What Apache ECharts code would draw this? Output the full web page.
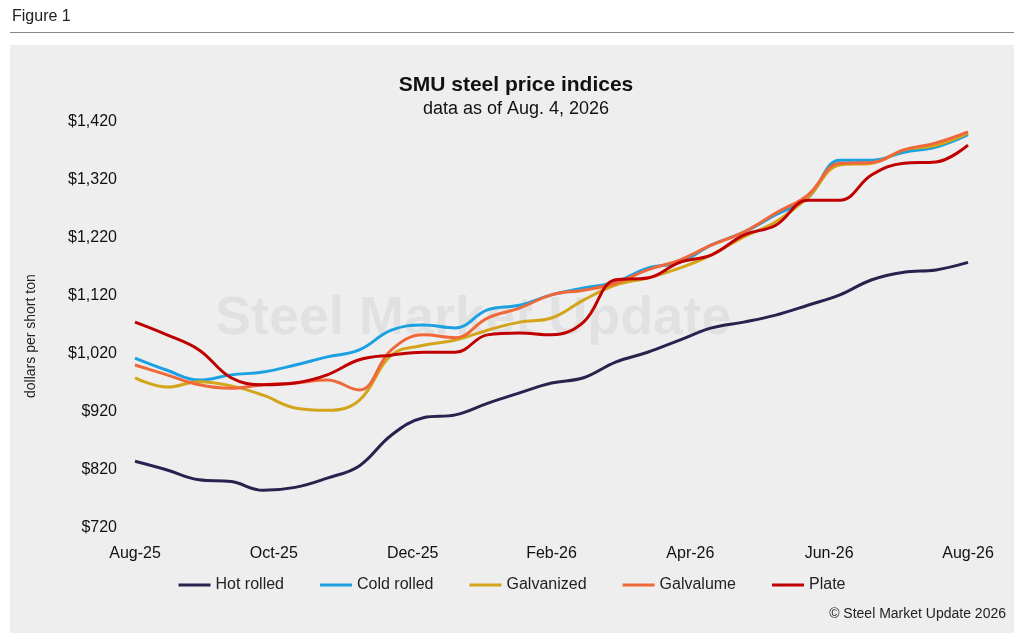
<!DOCTYPE html>
<html><head><meta charset="utf-8">
<script src="https://cdn.jsdelivr.net/npm/echarts@6/dist/echarts.min.js"></script>
<style>html,body{margin:0;background:#fff}#c{width:1024px;height:640px}</style>
</head><body><div id="c"></div>
<script>
// biweekly observations, x in months since Aug-25
const tickLabels = ['Aug-25','Oct-25','Dec-25','Feb-26','Apr-26','Jun-26','Aug-26'];
const hotRolled = [835,820,803,800,785,790,806,827,880,910,915,935,953,970,979,1006,1023,1044,1065,1075,1087,1104,1122,1148,1161,1165,1178];
const coldRolled = [1013,992,975,984,989,1001,1015,1027,1061,1070,1065,1096,1104,1122,1134,1144,1168,1178,1208,1230,1260,1289,1354,1354,1368,1377,1398];
const galvanized = [979,963,972,965,949,927,923,940,1018,1035,1044,1061,1075,1082,1113,1139,1151,1168,1191,1222,1248,1290,1346,1349,1372,1380,1401];
const galvalume = [1001,984,967,961,967,970,975,958,1027,1053,1048,1082,1099,1122,1130,1142,1165,1182,1208,1230,1263,1294,1349,1350,1372,1384,1403];
const plate = [1075,1053,1027,979,967,970,984,1010,1018,1023,1023,1053,1056,1053,1075,1148,1151,1178,1191,1225,1242,1285,1285,1329,1349,1351,1380];
const pts = arr => arr.map((v,i)=>[i*12/(arr.length-1), v]);
const mk = (name, arr, color) => ({name, type:'line', data:pts(arr), smooth:0.4, showSymbol:false, lineStyle:{width:3,color}, itemStyle:{color}});
const chart = echarts.init(document.getElementById('c'));
chart.setOption({
  backgroundColor:'#fff',
  textStyle:{fontFamily:'Liberation Sans, Arial'},
  graphic:[
    {type:'rect',shape:{x:10,y:45,width:1004,height:588},style:{fill:'#eeeeee'},z:-10},
    {type:'rect',shape:{x:10,y:32,width:1004,height:1},style:{fill:'#888'}},
    {type:'text',left:12,top:9,style:{text:'Figure 1',font:'16px Liberation Sans, Arial',fill:'#222'}},
    {type:'text',left:215,top:292,style:{text:'Steel Market Update',font:'bold 54px Liberation Sans, Arial',fill:'rgba(0,0,0,0.05)'},z:-5},
    {type:'text',right:18,top:607,style:{text:'© Steel Market Update 2026',font:'14px Liberation Sans, Arial',fill:'#222'}},
    {type:'text',x:24,y:398,rotation:Math.PI/2,style:{text:'dollars per short ton',font:'14px Liberation Sans, Arial',fill:'#222'}}
  ],
  title:{text:'SMU steel price indices',subtext:'data as of Aug. 4, 2026',left:511,textAlign:'center',top:70,itemGap:4,
    textStyle:{fontSize:21,fontWeight:'bold',color:'#111'},subtextStyle:{fontSize:18,color:'#111'}},
  legend:{bottom:42,left:'center',itemWidth:32,itemHeight:3,itemGap:36,icon:'rect',textStyle:{fontSize:16,color:'#222'}},
  grid:{left:135,right:56,top:122,bottom:112},
  xAxis:{type:'value',min:0,max:12,interval:2,axisLine:{show:false},axisTick:{show:false},splitLine:{show:false},
    axisLabel:{fontSize:16,color:'#111',margin:18,formatter:v=>tickLabels[Math.round(v/2)]}},
  yAxis:{type:'value',min:720,max:1420,interval:100,axisLine:{show:false},axisTick:{show:false},splitLine:{show:false},
    axisLabel:{fontSize:16,color:'#111',margin:18,formatter:v=>'$'+v.toLocaleString('en-US')}},
  series:[mk('Hot rolled',hotRolled,'#28224e'),mk('Cold rolled',coldRolled,'#1ba1e2'),mk('Galvanized',galvanized,'#d4a41a'),mk('Galvalume',galvalume,'#f0683a'),mk('Plate',plate,'#c00000')]
});
</script></body></html>
